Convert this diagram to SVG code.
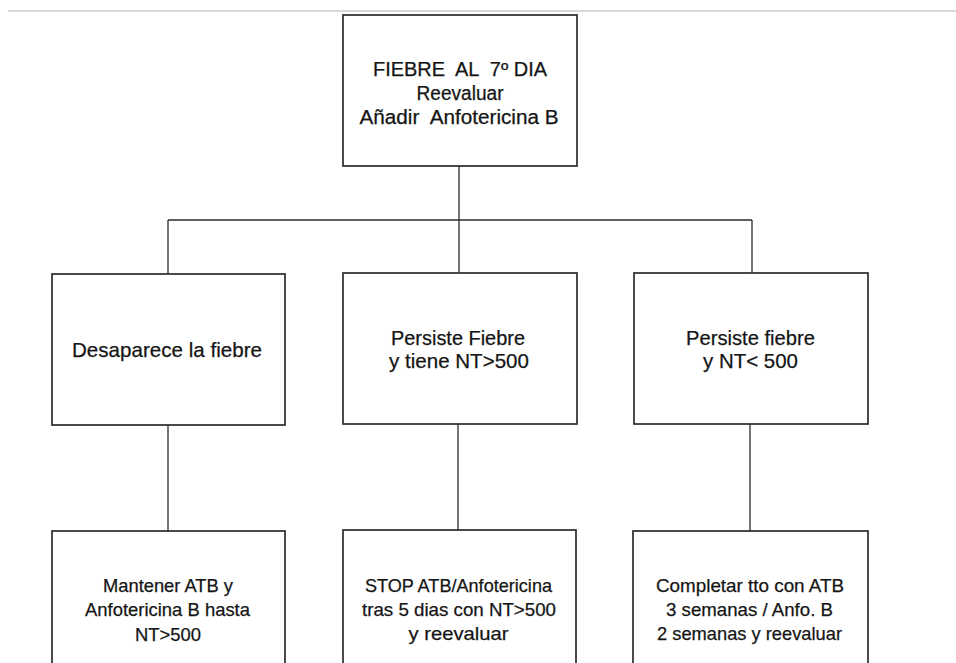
<svg xmlns="http://www.w3.org/2000/svg" width="956" height="663" viewBox="0 0 956 663">
<style>
.box{fill:#fff;stroke:#2b2b2b;stroke-width:1.7}
.ln{fill:none;stroke:#2b2b2b;stroke-width:1.3}
.t{font-family:"Liberation Sans",Arial,Helvetica,sans-serif;fill:#151515;stroke:#151515;stroke-width:0.25;text-anchor:middle;white-space:pre}
.a{font-size:19.5px}
.b{font-size:21px}
.c{font-size:18.5px}
</style>
<rect width="956" height="663" fill="#fff"/>
<line x1="8" y1="11" x2="956" y2="11" stroke="#d9d9d9" stroke-width="2"/>
<g id="connectors">
<line class="ln" x1="459" y1="166" x2="459" y2="220"/>
<line class="ln" x1="168" y1="220" x2="752" y2="220"/>
<line class="ln" x1="168" y1="220" x2="168" y2="274"/>
<line class="ln" x1="459" y1="220" x2="459" y2="273"/>
<line class="ln" x1="752" y1="220" x2="752" y2="273"/>
<line class="ln" x1="168" y1="425" x2="168" y2="531"/>
<line class="ln" x1="458" y1="424" x2="458" y2="530"/>
<line class="ln" x1="750" y1="424" x2="750" y2="531"/>
</g>
<g id="n0">
<rect class="box" x="343" y="15" width="234" height="151"/>
<text class="t a" x="460" y="76" textLength="174" lengthAdjust="spacingAndGlyphs">FIEBRE  AL  7º DIA</text>
<text class="t a" x="460" y="100" textLength="87" lengthAdjust="spacingAndGlyphs">Reevaluar</text>
<text class="t a" x="459" y="124" textLength="199" lengthAdjust="spacingAndGlyphs">Añadir  Anfotericina B</text>
</g>
<g id="n1">
<rect class="box" x="52" y="274" width="233" height="151"/>
<text class="t b" x="167" y="357" textLength="190" lengthAdjust="spacingAndGlyphs">Desaparece la fiebre</text>
</g>
<g id="n2">
<rect class="box" x="343" y="273" width="234" height="151"/>
<text class="t b" x="458" y="345" textLength="134" lengthAdjust="spacingAndGlyphs">Persiste Fiebre</text>
<text class="t b" x="459" y="368" textLength="140" lengthAdjust="spacingAndGlyphs">y tiene NT&gt;500</text>
</g>
<g id="n3">
<rect class="box" x="634" y="273" width="234" height="151"/>
<text class="t b" x="750.5" y="345" textLength="129" lengthAdjust="spacingAndGlyphs">Persiste fiebre</text>
<text class="t b" x="750.5" y="368" textLength="95" lengthAdjust="spacingAndGlyphs">y NT&lt; 500</text>
</g>
<g id="n4">
<rect class="box" x="52" y="531" width="233" height="160"/>
<text class="t c" x="168" y="592" textLength="130" lengthAdjust="spacingAndGlyphs">Mantener ATB y</text>
<text class="t c" x="167.5" y="616" textLength="165" lengthAdjust="spacingAndGlyphs">Anfotericina B hasta</text>
<text class="t c" x="168" y="641" textLength="66" lengthAdjust="spacingAndGlyphs">NT&gt;500</text>
</g>
<g id="n5">
<rect class="box" x="343" y="530" width="233" height="160"/>
<text class="t c" x="458.5" y="592" textLength="187" lengthAdjust="spacingAndGlyphs">STOP ATB/Anfotericina</text>
<text class="t c" x="459" y="616" textLength="194" lengthAdjust="spacingAndGlyphs">tras 5 dias con NT&gt;500</text>
<text class="t c" x="458.5" y="640" textLength="100" lengthAdjust="spacingAndGlyphs">y reevaluar</text>
</g>
<g id="n6">
<rect class="box" x="633" y="531" width="235" height="160"/>
<text class="t c" x="750" y="592" textLength="188" lengthAdjust="spacingAndGlyphs">Completar tto con ATB</text>
<text class="t c" x="749.5" y="616" textLength="167" lengthAdjust="spacingAndGlyphs">3 semanas / Anfo. B</text>
<text class="t c" x="749.5" y="640" textLength="185" lengthAdjust="spacingAndGlyphs">2 semanas y reevaluar</text>
</g>
</svg>
